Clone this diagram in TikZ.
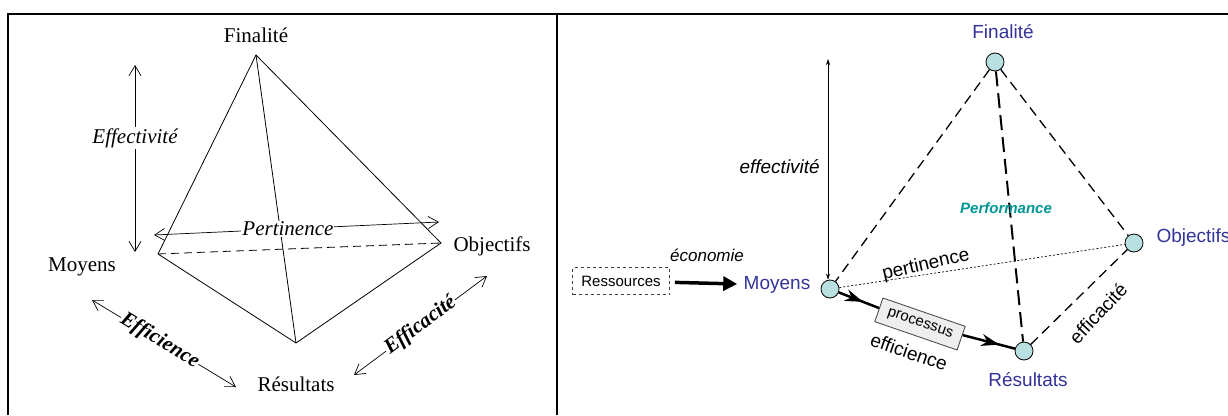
\documentclass[tikz,border=0pt]{standalone}
\usepackage{fontspec}
\setmainfont{Liberation Serif}
\setsansfont{Liberation Sans}
\usepackage{xcolor}
\usetikzlibrary{arrows.meta,decorations.markings}

\definecolor{labblue}{RGB}{51,51,153}
\definecolor{vertfill}{RGB}{185,224,224}
\definecolor{perfteal}{RGB}{0,150,150}
\definecolor{procgray}{RGB}{238,238,238}

\tikzset{
  seriflab/.style={font=\fontsize{21}{24}\selectfont, inner sep=1pt},
  serifarrow/.style={line width=0.7pt, {Straight Barb[length=10pt,width=12pt]}-{Straight Barb[length=10pt,width=12pt]}},
  vertex/.style={circle, draw, fill=vertfill, minimum size=18pt, inner sep=0pt, line width=0.8pt},
  bluelab/.style={font=\sffamily\fontsize{19}{22}\selectfont, text=labblue},
  sanslab/.style={font=\sffamily\fontsize{19}{22}\selectfont, inner sep=1pt},
  smalllab/.style={font=\sffamily\fontsize{15}{18}\selectfont},
  edge/.style={line width=1.3pt, dash pattern=on 10pt off 6pt},
  midarrow/.style={postaction={decorate}, decoration={markings,
    mark=at position #1 with {\arrow{Stealth[length=18pt,width=12pt]}}}},
}

\begin{document}
\begin{tikzpicture}[x=1pt,y=-1pt]
\useasboundingbox (0,0) rectangle (1228,415);
\fill[white] (0,0) rectangle (1228,415);
% frame
\draw[line width=2pt] (8,415) -- (8,14) -- (1228,14);
\draw[line width=2pt] (557,14) -- (557,415);

% left panel
\coordinate (lF) at (256,55);
\coordinate (lM) at (158,254);
\coordinate (lO) at (441,243);
\coordinate (lR) at (296,343);
\draw[line width=0.8pt] (lM) -- (lF) -- (lO) -- (lR) -- cycle;
\draw[line width=0.8pt] (lF) -- (lR);
\draw[line width=0.8pt, dash pattern=on 8pt off 5pt] (lM) -- (lO);
\node[seriflab] (lFin) at (256,35) {Finalité};
\node[seriflab] (lMoy) at (82,267) {Moyens};
\node[seriflab] (lObj) at (492,246) {Objectifs};
\node[seriflab] (lRes) at (296,384) {Résultats};
\coordinate (lEffTop) at (135,65);
\coordinate (lEffBot) at (135,252);
\draw[serifarrow] (lEffTop) -- node[pos=0.39, fill=white, seriflab] (lEff) {\itshape Effectivité} (lEffBot);
\coordinate (lPerA) at (154,235);
\coordinate (lPerB) at (439,222);
\draw[serifarrow] (lPerA) -- node[pos=0.47, fill=white, seriflab] (lPer) {\itshape Pertinence} (lPerB);
\coordinate (lEfiA) at (92,300);
\coordinate (lEfiB) at (236,387);
\draw[serifarrow] (lEfiA) -- node[pos=0.47, sloped, fill=white, seriflab] (lEfi) {\bfseries\itshape Efficience} (lEfiB);
\coordinate (lEfcA) at (354,375);
\coordinate (lEfcB) at (487,276);
\draw[serifarrow] (lEfcA) -- node[pos=0.5, sloped, fill=white, seriflab] (lEfc) {\bfseries\itshape Efficacité} (lEfcB);

% right panel
\node[vertex] (F) at (995,62) {};
\node[vertex] (M) at (830,289) {};
\node[vertex] (O) at (1134,243) {};
\node[vertex] (R) at (1024,351) {};
\node[bluelab] (finLab) at (1003,32) {Finalité};
\node[bluelab] (moyLab) at (777,285) {Moyens};
\node[bluelab, anchor=west] (objLab) at (1153,238) {Objectifs};
\node[bluelab] (resLab) at (1028,380) {Résultats};

\draw[edge] (F) -- (M);
\draw[edge] (F) -- (O);
\draw[edge, line width=2pt, dash pattern=on 15pt off 7pt] (F) -- (R);
\draw[edge] (R) -- (O);
\draw[line width=0.7pt, dash pattern=on 2pt off 2pt] (M) -- (O);

\node[smalllab, draw=darkgray, dashed, line width=0.8pt, minimum width=97pt, minimum height=27pt, inner sep=1pt] (res) at (621,281) {Ressources};
\draw[line width=3.5pt, -{Triangle[length=14pt,width=14pt]}, shorten <=5pt, shorten >=3pt] (res) -- (moyLab);
\node[font=\sffamily\itshape\fontsize{17}{20}\selectfont] (eco) at (707,255) {économie};

\coordinate (effTop) at (828,59);
\draw[line width=0.6pt, {Stealth[length=6pt,width=4pt]}-{Stealth[length=6pt,width=4pt]}] (effTop) -- (effTop |- M.north);
\node[sanslab, anchor=east] (effLab) at (821,167) {\itshape effectivité};

\node[font=\sffamily\bfseries\itshape\fontsize{15}{18}\selectfont, text=perfteal] (perf) at (1006,208) {Performance};
\node[sanslab, rotate=13] (pert) at (926,265) {pertinence};

\node[smalllab, draw=darkgray, fill=procgray, rotate=-19, minimum width=87pt, minimum height=25pt, inner sep=1pt, line width=0.8pt] (proc) at (920,324) {processus};
\draw[line width=2.5pt, midarrow=0.6] (M) -- (proc);
\draw[line width=2.5pt, midarrow=0.7] (proc) -- (R);
\node[sanslab, rotate=-19] (effi) at (909,352) {efficience};
\node[sanslab, rotate=47] (effc) at (1098,313) {efficacité};
\end{tikzpicture}
\end{document}
